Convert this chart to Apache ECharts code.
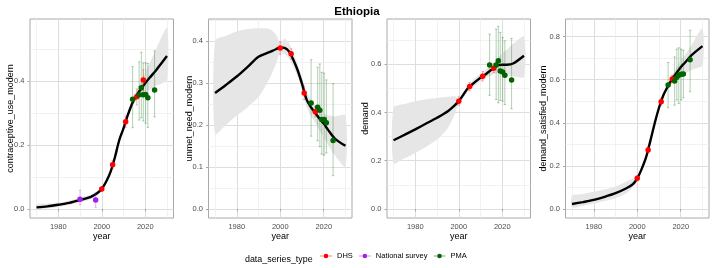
<!DOCTYPE html>
<html><head><meta charset="utf-8">
<script src="https://cdn.jsdelivr.net/npm/echarts@6/dist/echarts.min.js"></script>
<style>html,body{margin:0;padding:0;background:#fff}#c{width:714px;height:268px}</style>
</head><body><div id="c"></div><script>
// ---------- data ----------
const curveYears = [1970,1975,1980,1985,1990,1995,1998,2000,2002,2004,2006,2008,2010,2012,2014,2016,2018,2020,2022,2025,2030];

const cuMedian = [0.005,0.008,0.013,0.019,0.028,0.038,0.050,0.0625,0.085,0.115,0.160,0.214,0.252,0.294,0.330,0.355,0.375,0.393,0.410,0.434,0.478];
const cuLower  = [0.000,0.002,0.006,0.012,0.020,0.030,0.043,0.057,0.080,0.109,0.153,0.206,0.243,0.284,0.318,0.340,0.355,0.365,0.373,0.385,0.405];
const cuUpper  = [0.015,0.016,0.020,0.026,0.035,0.045,0.056,0.068,0.090,0.121,0.167,0.222,0.261,0.304,0.343,0.372,0.400,0.428,0.455,0.500,0.566];

const unMedian = [0.276,0.295,0.315,0.338,0.362,0.373,0.380,0.384,0.383,0.375,0.355,0.330,0.298,0.262,0.243,0.229,0.215,0.203,0.188,0.168,0.150];
const unLower  = [0.178,0.200,0.222,0.242,0.266,0.310,0.345,0.372,0.368,0.358,0.338,0.315,0.282,0.245,0.222,0.205,0.188,0.170,0.152,0.128,0.100];
const unUpper  = [0.400,0.412,0.422,0.428,0.430,0.428,0.415,0.395,0.405,0.395,0.372,0.345,0.312,0.280,0.262,0.248,0.237,0.228,0.222,0.220,0.222];

const dmMedian = [0.285,0.307,0.330,0.354,0.378,0.405,0.428,0.447,0.472,0.498,0.515,0.530,0.544,0.556,0.570,0.583,0.596,0.598,0.598,0.603,0.635];
const dmLower  = [0.190,0.210,0.232,0.258,0.288,0.336,0.390,0.435,0.460,0.485,0.500,0.515,0.528,0.540,0.550,0.560,0.565,0.560,0.555,0.550,0.548];
const dmUpper  = [0.420,0.435,0.447,0.455,0.460,0.465,0.467,0.460,0.485,0.512,0.530,0.546,0.562,0.575,0.590,0.605,0.625,0.645,0.660,0.685,0.715];

const dsMedian = [0.023,0.032,0.042,0.056,0.073,0.096,0.115,0.142,0.185,0.238,0.315,0.397,0.470,0.528,0.568,0.603,0.630,0.658,0.680,0.714,0.756];
const dsLower  = [0.008,0.015,0.025,0.037,0.050,0.073,0.100,0.133,0.177,0.229,0.305,0.387,0.460,0.517,0.555,0.585,0.600,0.615,0.628,0.645,0.668];
const dsUpper  = [0.062,0.070,0.080,0.090,0.104,0.128,0.140,0.152,0.194,0.247,0.325,0.407,0.480,0.540,0.582,0.620,0.655,0.690,0.715,0.760,0.838];

// observations
const dhsYears = [2000,2005,2011,2016.1,2019.1];
const pmaYears = [2014.2,2017.2,2018.2,2019.1,2020.2,2021.2,2024.3];
const natYears = [1990,1997.2];

const cuDhs   = [0.0625,0.138,0.273,0.351,0.403];
const cuDhsLo = [0.055,0.125,0.255,0.325,0.370];
const cuDhsHi = [0.070,0.152,0.290,0.375,0.435];
const cuPma   = [0.343,0.357,0.379,0.357,0.358,0.348,0.372];
const cuPmaLo = [0.254,0.278,0.285,0.275,0.268,0.255,0.288];
const cuPmaHi = [0.445,0.460,0.490,0.457,0.457,0.455,0.494];
const cuNat   = [0.030,0.028];
const cuNatLo = [0.0125,0.005];
const cuNatHi = [0.059,0.050];

const unDhs   = [0.383,0.369,0.276,0.231];
const unDhsLo = [0.368,0.357,0.260,0.219];
const unDhsHi = [0.398,0.381,0.292,0.243];
const unPma   = [0.252,0.242,0.235,0.213,0.213,0.205,0.163];
const unPmaLo = [0.173,0.162,0.148,0.130,0.128,0.133,0.079];
const unPmaHi = [0.355,0.337,0.345,0.325,0.323,0.307,0.298];

const dmDhs   = [0.447,0.508,0.550,0.583];
const dmDhsLo = [0.430,0.490,0.530,0.565];
const dmDhsHi = [0.465,0.525,0.570,0.602];
const dmPma   = [0.597,0.597,0.614,0.572,0.568,0.554,0.535];
const dmPmaLo = [0.471,0.454,0.440,0.450,0.447,0.433,0.415];
const dmPmaHi = [0.725,0.746,0.757,0.732,0.711,0.697,0.707];

const dsDhs   = [0.142,0.274,0.498,0.603];
const dsDhsLo = [0.130,0.260,0.480,0.585];
const dsDhsHi = [0.155,0.290,0.515,0.620];
const dsPma   = [0.575,0.594,0.612,0.621,0.625,0.627,0.693];
const dsPmaLo = [0.470,0.482,0.506,0.490,0.506,0.516,0.544];
const dsPmaHi = [0.680,0.706,0.742,0.748,0.742,0.737,0.830];

const xTickLabels = [1980,2000,2020];
const xMinorGrid = [1970,1990,2010,2030];
const yTicks1 = [0,0.2,0.4];      const yMinor1 = [0.1,0.3,0.5];
const yTicks2 = [0,0.1,0.2,0.3,0.4]; const yMinor2 = [0.05,0.15,0.25,0.35,0.45];
const yTicks3 = [0,0.2,0.4,0.6];  const yMinor3 = [0.1,0.3,0.5,0.7];
const yTicks4 = [0,0.2,0.4,0.6,0.8]; const yMinor4 = [0.1,0.3,0.5,0.7];

const panelNames = ['contraceptive_use_modern','unmet_need_modern','demand','demand_satisfied_modern'];
const yRanges = [[-0.0283,0.594],[-0.0218,0.452],[-0.0375,0.7875],[-0.042,0.882]];
const xRange = [1967,2033];

// ---------- build ----------
const COL = {DHS:'#ff0000', 'National survey':'#a020f0', PMA:'#006400'};
const ERR = {DHS:'rgba(255,0,0,0.3)', 'National survey':'rgba(160,32,240,0.3)', PMA:'rgba(0,100,0,0.3)'};
const lefts = [30,208.5,387,565.5];
const yNameGaps = [15,14,16.5,17];
const MAJOR = '#dedede', MINOR = '#ececec';

const panels = [
  {med:cuMedian,lo:cuLower,hi:cuUpper,yt:yTicks1,ym:yMinor1,
   obs:[['DHS',dhsYears,cuDhs,cuDhsLo,cuDhsHi],['National survey',natYears,cuNat,cuNatLo,cuNatHi],['PMA',pmaYears,cuPma,cuPmaLo,cuPmaHi]]},
  {med:unMedian,lo:unLower,hi:unUpper,yt:yTicks2,ym:yMinor2,
   obs:[['DHS',dhsYears.slice(0,4),unDhs,unDhsLo,unDhsHi],['PMA',pmaYears,unPma,unPmaLo,unPmaHi]]},
  {med:dmMedian,lo:dmLower,hi:dmUpper,yt:yTicks3,ym:yMinor3,
   obs:[['DHS',dhsYears.slice(0,4),dmDhs,dmDhsLo,dmDhsHi],['PMA',pmaYears,dmPma,dmPmaLo,dmPmaHi]]},
  {med:dsMedian,lo:dsLower,hi:dsUpper,yt:yTicks4,ym:yMinor4,
   obs:[['DHS',dhsYears.slice(0,4),dsDhs,dsDhsLo,dsDhsHi],['PMA',pmaYears,dsPma,dsPmaLo,dsPmaHi]]}
];

const grids=[], xAxes=[], yAxes=[], series=[];
const FONT = 'Liberation Sans, Arial, sans-serif';

function errRender(color){
  return function(params, api){
    const x = api.value(0);
    const p1 = api.coord([x, api.value(1)]);
    const p2 = api.coord([x, api.value(2)]);
    const c = 1.2;
    const st = {stroke: color, lineWidth: 1};
    return {type:'group', children:[
      {type:'line', shape:{x1:p1[0],y1:p1[1],x2:p2[0],y2:p2[1]}, style:st},
      {type:'line', shape:{x1:p1[0]-c,y1:p1[1],x2:p1[0]+c,y2:p1[1]}, style:st},
      {type:'line', shape:{x1:p2[0]-c,y1:p2[1],x2:p2[0]+c,y2:p2[1]}, style:st}
    ]};
  };
}

function ribbonRender(p){
  return function(params, api){
    const pts = [];
    for (let k=0;k<curveYears.length;k++) pts.push(api.coord([curveYears[k], p.hi[k]]));
    for (let k=curveYears.length-1;k>=0;k--) pts.push(api.coord([curveYears[k], p.lo[k]]));
    return {type:'polygon', shape:{points:pts, smooth:0.25}, style:{fill:'#e6e6e6', stroke:null}};
  };
}

// primary axes 0..3, minor-grid axes 4..7
panels.forEach((p,i)=>{
  grids.push({left:lefts[i], top:19, width:143.5, height:199, show:true,
    borderColor:'#a8a8a8', borderWidth:1, backgroundColor:'rgba(255,255,255,0)'});
  xAxes[i] = {type:'value', gridIndex:i, min:xRange[0], max:xRange[1], position:'bottom',
    name:'year', nameLocation:'middle', nameGap:14, nameMoveOverlap:false,
    nameTextStyle:{color:'#000', fontSize:9, fontFamily:FONT, verticalAlign:'top'},
    axisLine:{show:false},
    splitLine:{show:true, lineStyle:{color:MAJOR, width:1}},
    axisTick:{show:true, length:2.5, lineStyle:{color:'#a8a8a8'}, customValues:xTickLabels},
    axisLabel:{customValues:xTickLabels, color:'#4d4d4d', fontSize:7.5, fontFamily:FONT, margin:4.5,
      formatter:v=>String(Math.round(v))}
  };
  xAxes[i+4] = {type:'value', gridIndex:i, min:xRange[0], max:xRange[1], position:'top',
    axisLine:{show:false}, axisTick:{show:false, customValues:xMinorGrid},
    axisLabel:{show:false, customValues:xMinorGrid},
    splitLine:{show:true, lineStyle:{color:MINOR, width:0.7}}
  };
  yAxes[i] = {type:'value', gridIndex:i, min:yRanges[i][0], max:yRanges[i][1], position:'left',
    name:panelNames[i], nameLocation:'middle', nameGap:yNameGaps[i], nameMoveOverlap:false,
    nameTextStyle:{color:'#000', fontSize:9, fontFamily:FONT},
    axisLine:{show:false},
    splitLine:{show:true, lineStyle:{color:MAJOR, width:1}},
    axisTick:{show:true, length:2.5, lineStyle:{color:'#a8a8a8'}, customValues:p.yt},
    axisLabel:{customValues:p.yt, color:'#4d4d4d', fontSize:7.5, fontFamily:FONT, margin:5.5,
      formatter:v=>v.toFixed(1)}
  };
  yAxes[i+4] = {type:'value', gridIndex:i, min:yRanges[i][0], max:yRanges[i][1], position:'right',
    axisLine:{show:false}, axisTick:{show:false, customValues:p.ym},
    axisLabel:{show:false, customValues:p.ym},
    splitLine:{show:true, lineStyle:{color:MINOR, width:0.7}}
  };
  // ribbon
  series.push({type:'custom', xAxisIndex:i, yAxisIndex:i, z:2, silent:true, clip:true,
    renderItem:ribbonRender(p), data:[[2000, p.med[7]]]});
  // median
  series.push({type:'line', xAxisIndex:i, yAxisIndex:i, z:3, smooth:0.3, symbol:'none',
    lineStyle:{color:'#000', width:2.4}, silent:true,
    data:curveYears.map((y,k)=>[y,p.med[k]])});
  // observations
  p.obs.forEach(o=>{
    const [nm, yrs, vals, los, his] = o;
    series.push({type:'custom', xAxisIndex:i, yAxisIndex:i, z:4, silent:true,
      renderItem:errRender(ERR[nm]), encode:{x:0, y:[1,2]},
      data:yrs.map((y,k)=>[y,los[k],his[k]])});
    series.push({type:'scatter', name:nm, xAxisIndex:i, yAxisIndex:i, z:5,
      symbolSize:5.5, itemStyle:{color:COL[nm], opacity:1},
      data:yrs.map((y,k)=>[y,vals[k]])});
  });
});

const chart = echarts.init(document.getElementById('c'), null, {renderer:'canvas'});
chart.setOption({
  animation:false,
  backgroundColor:'#fff',
  title:[
    {text:'Ethiopia', left:'center', top:1,
     textStyle:{fontSize:11.5, fontWeight:'bold', color:'#000', fontFamily:FONT}},
    {text:'data_series_type', left:240, top:250.5,
     textStyle:{fontSize:8.9, fontWeight:'normal', color:'#000', fontFamily:FONT}}
  ],
  legend:{left:320, top:252, orient:'horizontal', itemWidth:12, itemHeight:4.6, itemGap:6, padding:0,
    icon:'path://M0,3.7 L12,3.7 L12,4.3 L0,4.3 Z M6,1.7 A2.3,2.3 0 1,1 5.99,1.7 Z',
    textStyle:{fontSize:7.5, color:'#000', fontFamily:FONT},
    data:['DHS','National survey','PMA']},
  grid:grids, xAxis:xAxes, yAxis:yAxes, series:series
});
</script></body></html>
